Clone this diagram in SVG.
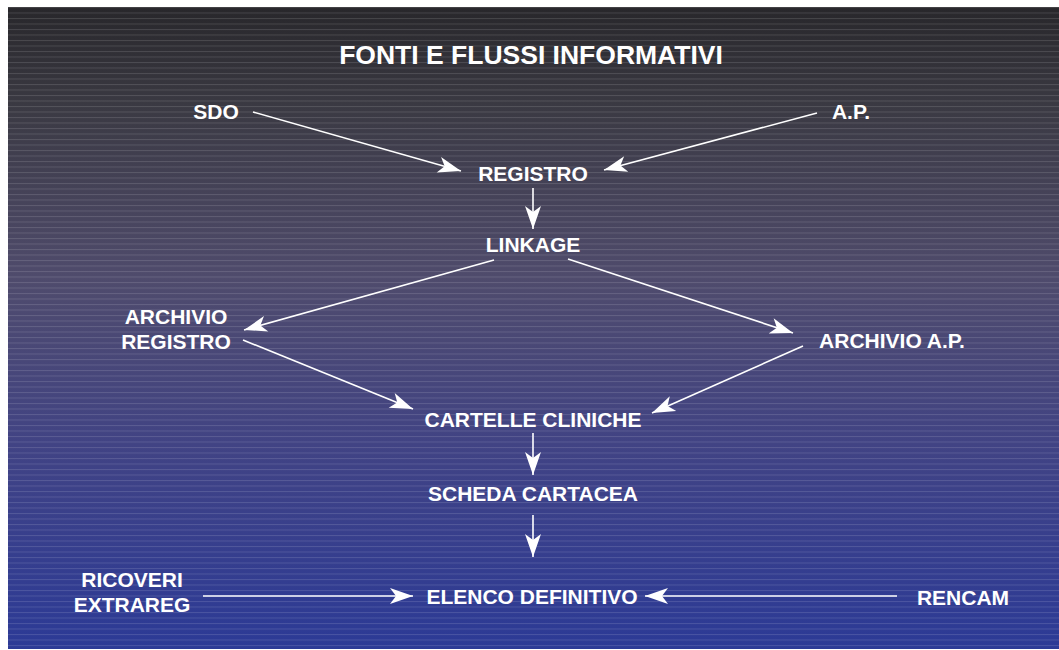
<svg xmlns="http://www.w3.org/2000/svg" width="1059" height="650" viewBox="0 0 1059 650">
<defs>
<linearGradient id="bg" x1="0" y1="0" x2="0" y2="1">
<stop offset="0" stop-color="#28272b"/>
<stop offset="0.15" stop-color="#3a3942"/>
<stop offset="0.42" stop-color="#4f4b6c"/>
<stop offset="0.68" stop-color="#414384"/>
<stop offset="1" stop-color="#2c3a96"/>
</linearGradient>
<pattern id="stripes" patternUnits="userSpaceOnUse" x="0" y="7" width="20" height="5.5">
<rect x="0" y="0" width="20" height="1" fill="#ffffff" fill-opacity="0.13"/>
</pattern>
<marker id="ah" markerUnits="userSpaceOnUse" markerWidth="26" markerHeight="18" viewBox="-24 -9 26 18" refX="0" refY="0" orient="auto">
<path d="M0,0 L-23,-8 L-17,0 L-23,8 Z" fill="#ffffff"/>
</marker>
<style>
.t{font-family:"Liberation Sans",Arial,sans-serif;font-weight:bold;font-size:21px;fill:#ffffff;text-anchor:middle}
.title{font-size:26.5px}
.c{stroke:#ffffff;stroke-width:1.6;fill:none;marker-end:url(#ah)}
</style>
</defs>
<rect x="0" y="0" width="1059" height="650" fill="#ffffff"/>
<rect x="8" y="7" width="1051" height="642" fill="url(#bg)"/>
<rect x="8" y="7" width="1051" height="642" fill="url(#stripes)"/>
<g id="title"><text class="t title" x="531" y="64">FONTI E FLUSSI INFORMATIVI</text></g>
<g id="sdo"><text class="t" x="216" y="119">SDO</text></g>
<g id="ap"><text class="t" x="851" y="119">A.P.</text></g>
<g id="registro"><text class="t" x="533" y="181">REGISTRO</text></g>
<g id="linkage"><text class="t" x="533" y="252">LINKAGE</text></g>
<g id="archivio-registro"><text class="t" x="176" y="324">ARCHIVIO</text><text class="t" x="176" y="349">REGISTRO</text></g>
<g id="archivio-ap"><text class="t" x="892" y="348">ARCHIVIO A.P.</text></g>
<g id="cartelle"><text class="t" x="533" y="427">CARTELLE CLINICHE</text></g>
<g id="scheda"><text class="t" x="533" y="501">SCHEDA CARTACEA</text></g>
<g id="elenco"><text class="t" x="532" y="604">ELENCO DEFINITIVO</text></g>
<g id="ricoveri"><text class="t" x="132" y="587">RICOVERI</text><text class="t" x="132" y="612">EXTRAREG</text></g>
<g id="rencam"><text class="t" x="963" y="605">RENCAM</text></g>
<g id="connectors">
<line class="c" x1="253" y1="112" x2="461" y2="171"/>
<line class="c" x1="817" y1="113" x2="604" y2="170"/>
<line class="c" x1="533" y1="188" x2="533" y2="229"/>
<line class="c" x1="494" y1="260" x2="244" y2="330"/>
<line class="c" x1="568" y1="259" x2="793" y2="333"/>
<line class="c" x1="243" y1="340" x2="413" y2="409"/>
<line class="c" x1="803" y1="346" x2="652" y2="413"/>
<line class="c" x1="533" y1="433" x2="533" y2="475"/>
<line class="c" x1="533" y1="515" x2="533" y2="557"/>
<line class="c" x1="203" y1="596" x2="413" y2="596"/>
<line class="c" x1="897" y1="596" x2="645" y2="596"/>
</g>
</svg>
